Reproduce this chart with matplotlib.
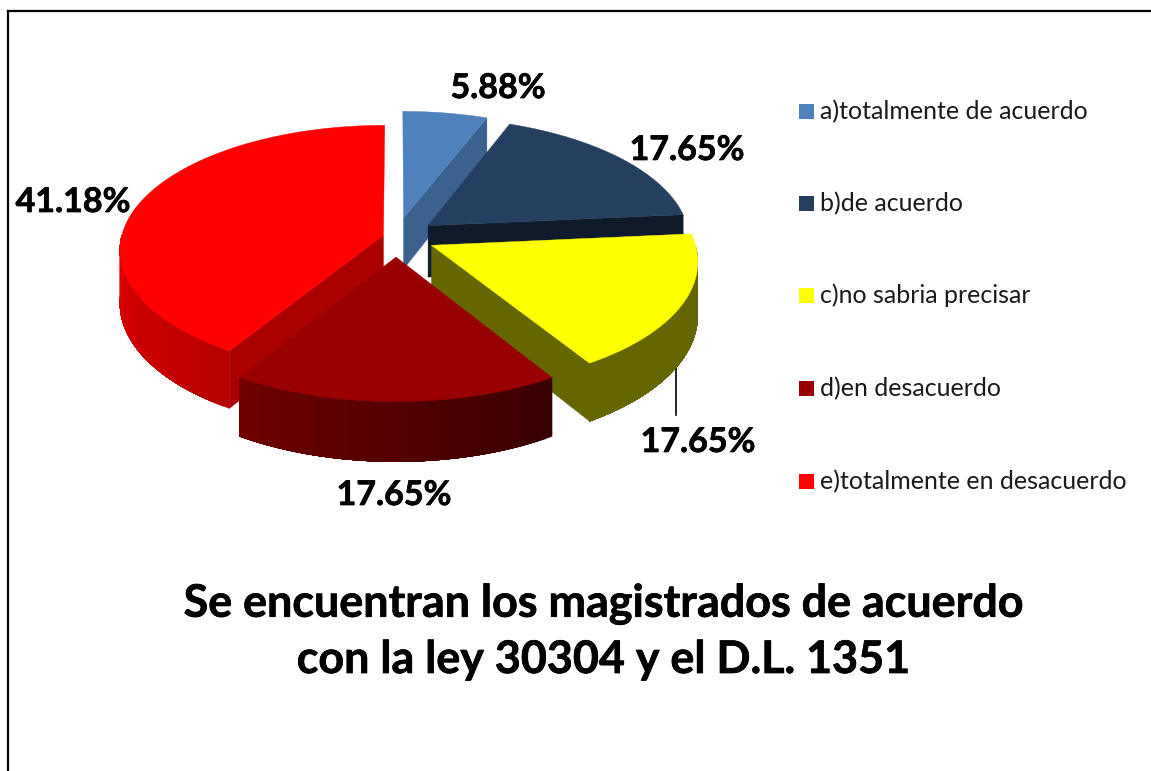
import matplotlib
matplotlib.use('Agg')
import matplotlib.pyplot as plt
import matplotlib.patheffects as pe
from matplotlib.colors import to_rgb
from matplotlib.patches import Polygon, Rectangle
import numpy as np

# Data
categories = ['a)totalmente de acuerdo', 'b)de acuerdo', 'c)no sabria precisar',
              'd)en desacuerdo', 'e)totalmente en desacuerdo']
values = [5.88, 17.65, 17.65, 17.65, 41.18]
title_lines = ['Se encuentran los magistrados de acuerdo', 'con la ley 30304 y el D.L. 1351']

# Slice styling
explode = [0.16, 0.155, 0.15, 0.16, 0.05]
top_colors = ['#4f81bd', '#243f60', '#ffff00', '#990000', '#ff0000']
cut_colors = ['#3b618e', '#0f1a2b', '#666600', '#660000', '#aa0000']
wall_start = ['#3b618e', '#0f1a2b', '#666600', '#380000', '#b80000']
wall_end = ['#3b618e', '#0f1a2b', '#666600', '#700000', '#e00000']
label_pos = [(498, 88), (687, 150), (698, 442), (394, 495), (73, 202)]
draw_order = [0, 1, 4, 2, 3]

# Projection of the pie onto the image, in pixels
CX, CY = 396, 237
RX, RY = 262, 123
PERSP = 0.115
DEPTH = 52

fig = plt.figure(figsize=(11.51, 7.71), dpi=100)
ax = fig.add_axes([0, 0, 1, 1])
ax.set_xlim(0, 1151)
ax.set_ylim(771, 0)
ax.axis('off')

heavy = [pe.withStroke(linewidth=0.5, foreground='black')]


def project(u, v, drop=0.0):
    s = 1 / (1 + PERSP * v)
    return CX + RX * u * s, CY - RY * v * s + drop * s


def rim(theta, off):
    return off[0] + np.sin(theta), off[1] + np.cos(theta)


def fill(points, color, z):
    ax.add_patch(Polygon(points, closed=True, facecolor=color, edgecolor=color, linewidth=0.3, zorder=z))


edges = np.radians(np.concatenate([[0], np.cumsum(values) / sum(values) * 360]))

for rank, i in enumerate(draw_order):
    a, b = edges[i], edges[i + 1]
    mid = (a + b) / 2
    off = (explode[i] * np.sin(mid), explode[i] * np.cos(mid))
    z = 2 + rank

    # cut faces, only the ones turned towards the viewer
    for ang, visible in [(a, np.sin(a) < -1e-6), (b, np.sin(b) > 1e-6)]:
        if visible:
            u, v = rim(ang, off)
            fill([project(*off), project(u, v), project(u, v, DEPTH), project(*off, DEPTH)], cut_colors[i], z)

    # outer wall: every strip runs to the far end and the next one paints over it, so no seams
    lo, hi = max(a, np.pi / 2), min(b, 3 * np.pi / 2)
    if hi > lo:
        th = np.linspace(lo, hi, 40)
        c0, c1 = np.array(to_rgb(wall_start[i])), np.array(to_rgb(wall_end[i]))
        for k in range(len(th) - 1):
            t = k / (len(th) - 2)
            arc = th[k:]
            upper = [project(*rim(w, off)) for w in arc]
            lower = [project(*rim(w, off), DEPTH) for w in arc[::-1]]
            fill(upper + lower, tuple(c0 + (c1 - c0) * t), z)

    # top face
    th = np.linspace(a, b, 120)
    pts = [project(*off)] + [project(*rim(t, off)) for t in th]
    fill(pts, top_colors[i], z + 0.5)

# leader line of the yellow slice
ax.plot([676, 676], [361, 415], color='black', lw=1.2, zorder=1)

# data labels
for val, (x, y) in zip(values, label_pos):
    ax.text(x, y, f'{val:.2f}%', ha='center', va='center', fontsize=24.5, fontweight='bold',
            family='Lato', color='black', zorder=21, path_effects=heavy)

# legend
legend_y = [111, 203, 295, 388, 481]
for name, color, y in zip(categories, top_colors, legend_y):
    ax.add_patch(Rectangle((799, y - 7.5), 15, 15, facecolor=color, edgecolor='none'))
    ax.text(820, y + 0.5, name, ha='left', va='center', fontsize=18, family='Lato', color='#1a1a1a')

# title
for line, y in zip(title_lines, [604, 660]):
    ax.text(603, y, line, ha='center', va='center', fontsize=32.3, fontweight='bold',
            family='Lato', color='black', path_effects=heavy)

# frame around the chart
ax.plot([8, 8], [771, 11], color='black', lw=1.6, clip_on=False)
ax.plot([8, 1151], [11, 11], color='black', lw=1.6, clip_on=False)

fig.savefig('out.png', dpi=100)
